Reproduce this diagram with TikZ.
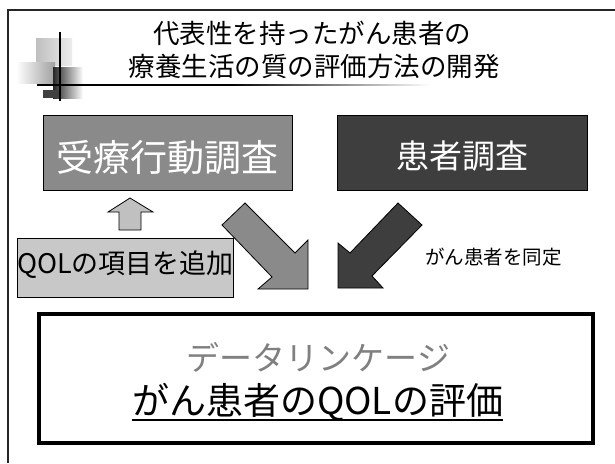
\documentclass[tikz,border=0pt]{standalone}
\usepackage{fontspec}
\setmainfont{Noto Sans CJK JP}
\definecolor{midgray}{RGB}{138,138,138}
\definecolor{darkgray2}{RGB}{62,62,62}
\definecolor{lightgray2}{RGB}{200,200,200}
\definecolor{arrowlight}{RGB}{192,192,192}
\definecolor{linkgray}{RGB}{128,128,128}
\begin{document}
\begin{tikzpicture}[x=1pt,y=-1pt,
  survey/.style={draw=black, line width=0.8pt, minimum width=249pt, minimum height=75pt,
                 inner sep=0pt, text=white, text depth=0pt},
  plain/.style={inner sep=0pt},
  blockarrow/.style={draw=black, line width=0.8pt, line join=miter},
  frameline/.style={draw=black!85, line width=1.4pt}]
\useasboundingbox (0,0) rectangle (615,463);
\fill[white] (0,0) rectangle (615,463);

% outer frame
\draw[frameline] (8,463) -- (8,10) -- (615,10);

% decoration
\shade[left color=gray!50, right color=gray!15] (36,38) rectangle (72,65);
\shade[left color=white, right color=gray!75] (16,62) rectangle (55,83);
\shade[left color=black!85, right color=white] (53,67) rectangle (83,98);
\fill[black!75] (43,90) rectangle (60,98);
\fill[black] (37,84.3) rectangle (230,85.7);
\shade[left color=black, right color=white] (230,84.3) rectangle (430,85.7);
\draw[black, line width=1.5pt] (60,32) -- (60,101);

% title
\node[plain, font=\fontsize{26.5}{30}\selectfont] (t1) at (312,33.5) {代表性を持ったがん患者の};
\node[plain, font=\fontsize{26.5}{30}\selectfont] (t2) at (314,66.5) {療養生活の質の評価方法の開発};

% survey boxes
\node[survey, fill=midgray, text height=38pt, font=\fontsize{37}{40}\selectfont] (b1) at (167.5,152.5) {受療行動調査};
\node[survey, fill=darkgray2, minimum width=250pt, text height=31pt, font=\fontsize{33}{36}\selectfont] (b2) at (462,153) {患者調査};

% QOL box
\node[draw=black, line width=0.8pt, fill=lightgray2, minimum width=215pt, minimum height=59pt,
      inner sep=0pt, text height=11.5pt, text depth=0pt, font=\fontsize{27}{30}\selectfont] (q) at (125.5,267.5) {QOLの項目を追加};

% up arrow
\draw[blockarrow, fill=arrowlight] (130,198) -- (153,212) -- (141,212) -- (141,230)
  -- (119,230) -- (119,212) -- (108,212) -- cycle;

% diagonal arrows
\draw[blockarrow, fill=midgray] (222,225) -- (245,203) -- (295,253) -- (308,240)
  -- (308,289) -- (258,289) -- (272,277) -- cycle;
\draw[blockarrow, fill=darkgray2] (398,203) -- (422,225) -- (372,276) -- (383,288)
  -- (338,288) -- (338,243) -- (350,253) -- cycle;

\node[plain, font=\fontsize{19.5}{22}\selectfont] (id) at (493.5,257) {がん患者を同定};

% result box
\node[draw=black, line width=4pt, minimum width=554pt, minimum height=129pt, inner sep=0pt]
  (r) at (316,378.5) {};
\node[plain, text=linkgray, font=\fontsize{33}{36}\selectfont] (dl) at (318.5,357) {データリンケージ};
\node[plain, anchor=base, font=\fontsize{37}{40}\selectfont] (ev) at (317.5,414.5) {がん患者のQOLの評価};
\draw[black, line width=1.6pt] ([yshift=-5.5pt]ev.base west) -- ([yshift=-5.5pt]ev.base east);
\end{tikzpicture}
\end{document}
